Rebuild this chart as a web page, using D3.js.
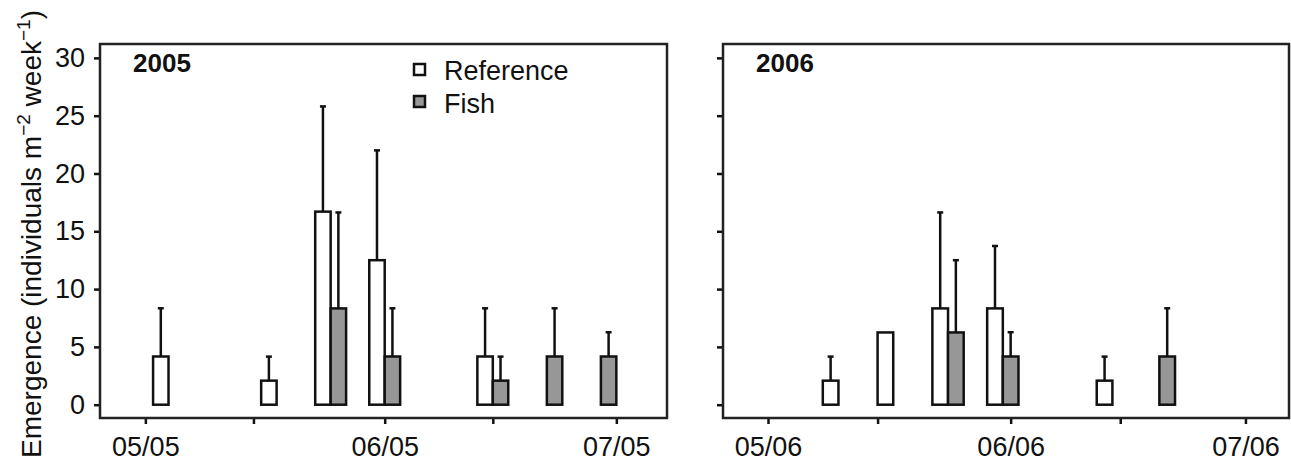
<!DOCTYPE html>
<html>
<head>
<meta charset="utf-8" />
<script src="https://cdn.jsdelivr.net/npm/d3@7"></script>
<style>
  body { margin: 0; background: #fff; }
  svg text { font-family: "Liberation Sans", Arial, sans-serif; fill: #111; }
  .tick line { stroke: #111; stroke-width: 2.5; }
</style>
</head>
<body>
<script>
// sampling dates (weekly emergence traps)
var dates2005 = ["2005-05-04", "2005-05-18", "2005-05-25", "2005-06-01", "2005-06-15", "2005-06-22", "2005-06-29"];
var ref2005   = [4.17, 2.08, 16.7, 12.5, 4.17, null, null];
var refSe2005 = [4.17, 2.08, 9.1, 9.5, 4.17, null, null];
var fish2005   = [null, null, 8.33, 4.17, 2.08, 4.17, 4.17];
var fishSe2005 = [null, null, 8.3, 4.17, 2.08, 4.17, 2.1];

var dates2006 = ["2006-05-10", "2006-05-17", "2006-05-24", "2006-05-31", "2006-06-14", "2006-06-20"];
var ref2006   = [2.08, 6.25, 8.33, 8.33, 2.08, null];
var refSe2006 = [2.08, 0, 8.3, 5.4, 2.08, null];
var fish2006   = [null, null, 6.25, 4.17, null, 4.17];
var fishSe2006 = [null, null, 6.25, 2.1, null, 4.17];

var yTicks = [0, 5, 10, 15, 20, 25, 30];
var xTicks2005 = ["2005-05-01", "2005-05-15", "2005-06-01", "2005-06-15", "2005-07-01"];
var xTicks2006 = ["2006-05-01", "2006-05-15", "2006-06-01", "2006-06-15", "2006-07-01"];
var seriesNames = ["Reference", "Fish"];
var seriesFill = ["#ffffff", "#979797"];

var width = 1291, height = 464;
var top_ = 44, bottom = 418;
var barDays = 2;
var parse = d3.timeParse("%Y-%m-%d");
var parseT = d3.timeParse("%Y-%m-%dT%H:%M");

var svg = d3.select("body").append("svg")
  .attr("width", width)
  .attr("height", height);

var y = d3.scaleLinear().domain([-1.15, 31.2]).range([bottom, top_]);

function drawPanel(p) {
  var x = d3.scaleTime().domain(p.domain).range([p.left, p.right]);
  var g = svg.append("g");

  // y axis ticks
  var yAxis = d3.axisLeft(y).tickValues(yTicks).tickSize(6).tickPadding(9);
  if (!p.yLabels) yAxis.tickFormat("");
  var ya = g.append("g").attr("transform", "translate(" + p.left + ",0)").call(yAxis);
  ya.select(".domain").remove();
  ya.selectAll("text").style("font-size", "27px");

  // x axis ticks
  var fmt = d3.timeFormat("%m/%y");
  var xAxis = d3.axisBottom(x)
    .tickValues(p.xTicks.map(parse))
    .tickSize(6).tickPadding(13)
    .tickFormat(function(d) { return d.getDate() == 1 ? fmt(d) : ""; });
  var xa = g.append("g").attr("transform", "translate(0," + bottom + ")").call(xAxis);
  xa.select(".domain").remove();
  xa.selectAll("text").style("font-size", "27px");

  var day = 24 * 3600 * 1000;
  var rows = p.dates.map(function(d, i) {
    return { date: parse(d), ref: p.ref[i], refSe: p.refSe[i], fish: p.fish[i], fishSe: p.fishSe[i] };
  });

  // bars: reference left of the sampling date, fish right of it
  var bars = [];
  rows.forEach(function(r) {
    if (r.ref != null) bars.push({ x0: +r.date - barDays * day, x1: +r.date, v: r.ref, se: r.refSe, s: 0 });
    if (r.fish != null) bars.push({ x0: +r.date, x1: +r.date + barDays * day, v: r.fish, se: r.fishSe, s: 1 });
  });
  var withSe = bars.filter(function(b) { return b.se > 0; });
  function mid(b) { return (x(b.x0) + x(b.x1)) / 2; }

  g.selectAll("line.err").data(withSe)
    .enter().append("line")
    .attr("class", "err")
    .attr("x1", mid).attr("x2", mid)
    .attr("y1", function(b) { return y(b.v); })
    .attr("y2", function(b) { return y(b.v + b.se); })
    .attr("stroke", "#111").attr("stroke-width", 2.5);

  g.selectAll("line.cap").data(withSe)
    .enter().append("line")
    .attr("class", "cap")
    .attr("x1", function(b) { return mid(b) - 3; })
    .attr("x2", function(b) { return mid(b) + 3; })
    .attr("y1", function(b) { return y(b.v + b.se); })
    .attr("y2", function(b) { return y(b.v + b.se); })
    .attr("stroke", "#111").attr("stroke-width", 2.5);

  g.selectAll("rect.bar").data(bars)
    .enter().append("rect")
    .attr("class", "bar")
    .attr("x", function(b) { return x(b.x0); })
    .attr("width", function(b) { return x(b.x1) - x(b.x0); })
    .attr("y", function(b) { return y(b.v); })
    .attr("height", function(b) { return y(0) - y(b.v); })
    .attr("fill", function(b) { return seriesFill[b.s]; })
    .attr("stroke", "#111").attr("stroke-width", 2.5);

  // frame
  g.append("rect")
    .attr("x", p.left).attr("y", top_)
    .attr("width", p.right - p.left).attr("height", bottom - top_)
    .attr("fill", "none").attr("stroke", "#222").attr("stroke-width", 2.5);

  g.append("text")
    .attr("x", p.left + 33).attr("y", 72)
    .style("font-size", "26px").style("font-weight", "bold")
    .text(p.year);
}

drawPanel({
  year: "2005", left: 100, right: 667, yLabels: true,
  domain: [parseT("2005-04-25T03:00"), parseT("2005-07-07T13:30")],
  xTicks: xTicks2005, dates: dates2005,
  ref: ref2005, refSe: refSe2005, fish: fish2005, fishSe: fishSe2005
});
drawPanel({
  year: "2006", left: 723, right: 1289, yLabels: false,
  domain: [parseT("2006-04-25T06:00"), parseT("2006-07-06T13:30")],
  xTicks: xTicks2006, dates: dates2006,
  ref: ref2006, refSe: refSe2006, fish: fish2006, fishSe: fishSe2006
});

// legend
var leg = svg.append("g");
seriesNames.forEach(function(name, i) {
  leg.append("rect")
    .attr("x", 414).attr("y", 64 + i * 32)
    .attr("width", 11).attr("height", 11)
    .attr("fill", seriesFill[i]).attr("stroke", "#111").attr("stroke-width", 2.5);
  leg.append("text")
    .attr("x", 444).attr("y", 80 + i * 33)
    .style("font-size", "27px")
    .text(name);
});

// y title with superscripts
var yt = svg.append("text")
  .attr("transform", "translate(41,234) rotate(-90)")
  .attr("text-anchor", "middle")
  .style("font-size", "28px");
yt.append("tspan").text("Emergence (individuals m");
yt.append("tspan").attr("dy", -11).style("font-size", "19px").text("\u22122");
yt.append("tspan").attr("dy", 11).text(" week");
yt.append("tspan").attr("dy", -11).style("font-size", "19px").text("\u22121");
yt.append("tspan").attr("dy", 11).text(")");
</script>
</body>
</html>
